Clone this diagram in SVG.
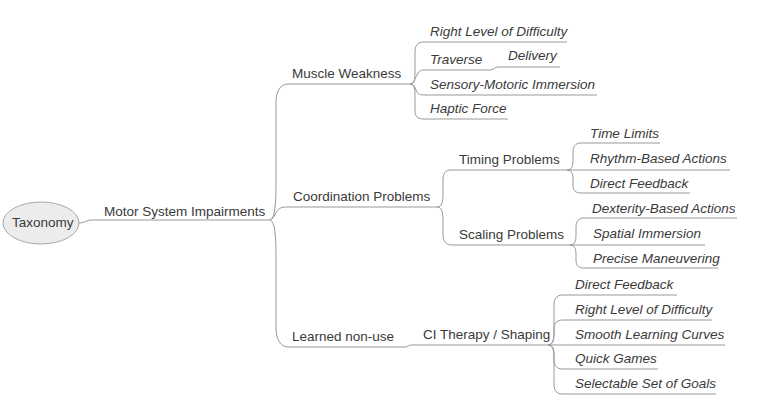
<svg xmlns="http://www.w3.org/2000/svg" width="765" height="410" viewBox="0 0 765 410">
<style>
text{font-family:"Liberation Sans",Arial,sans-serif;font-size:13.5px;fill:#3a3a3a}
.it{font-style:italic}
.c{fill:none;stroke:#999999;stroke-width:1}
</style>
<rect width="765" height="410" fill="#ffffff"/>
<g id="connectors">
<path class="c" d="M79,223 C85,223 86,220 92,220 H270"/>
<path class="c" d="M270,220 C275,218 276,205 276,180 V102 C276,92 280,84 288,84 H410"/>
<path class="c" d="M270,220 C276,218 275,207 285,207 H437"/>
<path class="c" d="M270,220 C275,222 276,235 276,260 V328 C276,338 280,347 288,347 H405 C408,347 408,345 412,345 H725"/>
<path class="c" d="M410,84 C415,84 415,78 415,70 V52 C415,46 417,42 424,42 H567"/>
<path class="c" d="M410,84 C414,84 415,78 417,75 C418,72 420,70 424,70 H490 C494,70 494,67 498,67 H560"/>
<path class="c" d="M410,84 C414,84 415,87 416,90 C417,93 419,95 424,95 H597"/>
<path class="c" d="M410,84 C415,84 415,90 415,98 V110 C415,116 417,119 424,119 H508"/>
<path class="c" d="M437,207 C443,207 443,199 443,190 V180 C443,174 445,170 451,170 H730"/>
<path class="c" d="M437,207 C443,207 443,215 443,224 V235 C443,241 446,245 452,245 H705"/>
<path class="c" d="M567,170 C573,170 573,164 573,158 V152 C573,147 575,143 581,143 H660"/>
<path class="c" d="M567,170 C573,170 573,176 573,181 V185 C573,190 575,193 581,193 H690"/>
<path class="c" d="M570,245 C576,245 576,239 576,233 V227 C576,222 578,218 584,218 H737"/>
<path class="c" d="M570,245 C576,245 576,251 576,256 V260 C576,265 578,268 584,268 H718"/>
<path class="c" d="M548,345 C554,345 554,337 554,328 V305 C554,299 556,295 563,295 H677"/>
<path class="c" d="M548,345 C554,345 554,337 554,332 V329 C554,324 556,320 563,320 H712"/>
<path class="c" d="M548,345 C554,345 554,351 554,356 V360 C554,365 556,369 563,369 H658"/>
<path class="c" d="M548,345 C554,345 554,353 554,362 V384 C554,390 556,394 563,394 H716"/>
</g>
<g id="taxonomy"><ellipse cx="41" cy="223" rx="38" ry="21" fill="#ececec" stroke="#a8a8a8"/><text x="12" y="227">Taxonomy</text></g>
<g id="motor"><text x="104" y="216">Motor System Impairments</text></g>
<g id="muscle"><text x="292" y="78">Muscle Weakness</text></g>
<g id="coordination"><text x="293" y="201">Coordination Problems</text></g>
<g id="learned"><text x="292" y="341">Learned non-use</text></g>
<g id="timing"><text x="459" y="164">Timing Problems</text></g>
<g id="scaling"><text x="459" y="239">Scaling Problems</text></g>
<g id="ci"><text x="423" y="339">CI Therapy / Shaping</text></g>
<g id="mw1"><text class="it" x="430" y="36">Right Level of Difficulty</text></g>
<g id="mw2"><text class="it" x="430" y="64">Traverse</text></g>
<g id="mw2b"><text class="it" x="508" y="60">Delivery</text></g>
<g id="mw3"><text class="it" x="430" y="89">Sensory-Motoric Immersion</text></g>
<g id="mw4"><text class="it" x="430" y="113">Haptic Force</text></g>
<g id="tp1"><text class="it" x="590" y="138">Time Limits</text></g>
<g id="tp2"><text class="it" x="590" y="163">Rhythm-Based Actions</text></g>
<g id="tp3"><text class="it" x="590" y="188">Direct Feedback</text></g>
<g id="sp1"><text class="it" x="592" y="213">Dexterity-Based Actions</text></g>
<g id="sp2"><text class="it" x="593" y="238">Spatial Immersion</text></g>
<g id="sp3"><text class="it" x="593" y="263">Precise Maneuvering</text></g>
<g id="ci1"><text class="it" x="575" y="289">Direct Feedback</text></g>
<g id="ci2"><text class="it" x="575" y="314">Right Level of Difficulty</text></g>
<g id="ci3"><text class="it" x="575" y="339">Smooth Learning Curves</text></g>
<g id="ci4"><text class="it" x="575" y="363">Quick Games</text></g>
<g id="ci5"><text class="it" x="575" y="388">Selectable Set of Goals</text></g>
</svg>
